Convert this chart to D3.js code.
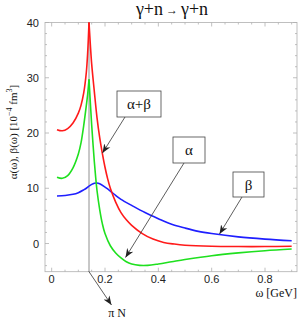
<!DOCTYPE html>
<html>
<head>
<script src="https://d3js.org/d3.v7.min.js"></script>
<style>
  body { margin: 0; background: #fff; }
  svg { display: block; }
  .tick-label { font-family: "Liberation Sans", Arial, sans-serif; font-size: 11px; fill: #222; }
  .serif { font-family: "Liberation Serif", "DejaVu Serif", serif; fill: #111; }
</style>
</head>
<body>
<div id="chart"></div>
<script>
// threshold (pi N) and tick values
var threshold = 0.14;
var xTicks = [0, 0.2, 0.4, 0.6, 0.8];
var yTicks = [0, 10, 20, 30, 40];

// alpha + beta (red), split at the pion threshold cusp
var sumLeft = [[0.02,20.6],[0.04,20.4],[0.06,20.8],[0.08,21.8],[0.10,23.6],[0.11,25.0],[0.12,27.2],[0.13,31.0],[0.135,34.5],[0.14,40]];
var sumRight = [[0.14,40],[0.145,36.0],[0.15,32.5],[0.16,27.5],[0.17,22.8],[0.18,19.2],[0.19,16.3],[0.20,13.8],[0.21,11.7],[0.22,10.0],[0.24,7.5],[0.26,5.6],[0.28,4.3],[0.30,3.3],[0.34,1.8],[0.38,0.8],[0.42,0.2],[0.46,-0.1],[0.5,-0.3],[0.6,-0.5],[0.7,-0.55],[0.8,-0.55],[0.9,-0.5]];

// alpha (green)
var alphaLeft = [[0.02,12.0],[0.04,11.8],[0.06,12.3],[0.08,13.7],[0.10,16.2],[0.11,18.2],[0.12,21.3],[0.13,25.0],[0.135,27.0],[0.14,29.7]];
var alphaRight = [[0.14,29.7],[0.145,25.5],[0.15,21.5],[0.155,18.0],[0.16,14.8],[0.165,12.0],[0.17,9.6],[0.18,6.2],[0.19,3.6],[0.20,1.8],[0.22,-0.4],[0.24,-1.7],[0.26,-2.6],[0.28,-3.3],[0.30,-3.7],[0.33,-3.95],[0.36,-3.95],[0.40,-3.7],[0.45,-3.3],[0.5,-2.9],[0.6,-2.2],[0.7,-1.7],[0.8,-1.3],[0.9,-1.0]];

// beta (blue)
var betaLeft = [[0.02,8.6],[0.05,8.7],[0.08,8.9],[0.10,9.2],[0.12,9.7],[0.13,10.0],[0.14,10.4]];
var betaRight = [[0.14,10.4],[0.15,10.7],[0.16,10.9],[0.17,10.95],[0.18,10.8],[0.20,10.2],[0.22,9.5],[0.24,8.7],[0.26,8.0],[0.30,6.9],[0.35,5.6],[0.40,4.5],[0.45,3.5],[0.5,2.8],[0.55,2.2],[0.6,1.8],[0.7,1.2],[0.8,0.8],[0.9,0.5]];

var width = 300, height = 319;
var svg = d3.select("#chart").append("svg")
  .attr("width", width).attr("height", height);

var x = d3.scaleLinear().domain([-0.025, 0.92]).range([45, 297]);
var y = d3.scaleLinear().domain([-5.1, 40]).range([271.7, 22.5]);

var defs = svg.append("defs");
defs.append("marker")
  .attr("id", "arrow")
  .attr("viewBox", "0 0 10 10")
  .attr("refX", 10).attr("refY", 5)
  .attr("markerWidth", 9).attr("markerHeight", 9)
  .attr("markerUnits", "userSpaceOnUse")
  .attr("orient", "auto")
  .append("path")
  .attr("d", "M0,1 L10,5 L0,9 L3,5 Z")
  .attr("fill", "#222");

// frame
var frameColor = "#b0b0b0";
svg.append("rect")
  .attr("x", x.range()[0]).attr("y", y.range()[1])
  .attr("width", x.range()[1] - x.range()[0])
  .attr("height", y.range()[0] - y.range()[1])
  .attr("fill", "none").attr("stroke", frameColor).attr("stroke-width", 0.8);

// inward ticks on all sides
var xMinor = d3.range(0, 0.92, 0.05);
var yMinor = d3.range(-4, 40.1, 2);
var tickG = svg.append("g").attr("stroke", frameColor).attr("stroke-width", 0.8);
xMinor.forEach(function(v) {
  var major = xTicks.some(function(t) { return Math.abs(t - v) < 1e-6; });
  var len = major ? 4 : 2;
  tickG.append("line").attr("x1", x(v)).attr("x2", x(v)).attr("y1", y.range()[0]).attr("y2", y.range()[0] - len);
  tickG.append("line").attr("x1", x(v)).attr("x2", x(v)).attr("y1", y.range()[1]).attr("y2", y.range()[1] + len);
});
yMinor.forEach(function(v) {
  var major = yTicks.indexOf(v) >= 0;
  var len = major ? 4 : 2;
  tickG.append("line").attr("y1", y(v)).attr("y2", y(v)).attr("x1", x.range()[0]).attr("x2", x.range()[0] + len);
  tickG.append("line").attr("y1", y(v)).attr("y2", y(v)).attr("x1", x.range()[1]).attr("x2", x.range()[1] - len);
});

// tick labels
svg.selectAll(".xl").data(xTicks).enter().append("text")
  .attr("class", "tick-label")
  .attr("x", function(d) { return x(d); })
  .attr("y", 283)
  .attr("text-anchor", "middle")
  .text(function(d) { return d === 0 ? "0" : d3.format(".1f")(d); });

svg.selectAll(".yl").data(yTicks).enter().append("text")
  .attr("class", "tick-label")
  .attr("x", 39)
  .attr("y", function(d) { return y(d) + 4; })
  .attr("text-anchor", "end")
  .text(function(d) { return d; });

// threshold line
svg.append("line")
  .attr("x1", x(threshold)).attr("x2", x(threshold))
  .attr("y1", y(40)).attr("y2", y.range()[0])
  .attr("stroke", "#222").attr("stroke-width", 1)
  .attr("stroke-dasharray", "1,1");

// curves
var line = d3.line()
  .x(function(d) { return x(d[0]); })
  .y(function(d) { return y(d[1]); })
  .curve(d3.curveCatmullRom.alpha(0.5));

var series = [
  {data: [betaLeft, betaRight], color: "#1f1fff"},
  {data: [sumLeft, sumRight], color: "#ff1a1a"},
  {data: [alphaLeft, alphaRight], color: "#1fe01f"}
];
series.forEach(function(s) {
  s.data.forEach(function(seg) {
    svg.append("path")
      .attr("d", line(seg))
      .attr("fill", "none")
      .attr("stroke", s.color)
      .attr("stroke-width", 1.6)
      .attr("stroke-linejoin", "round");
  });
});

// label boxes with arrows
var labels = [
  {text: "α+β", box: [117, 91, 44, 26], from: [125, 117], to: [102.5, 153]},
  {text: "α", box: [173, 137, 32, 26], from: [184, 163], to: [125.5, 257.5]},
  {text: "β", box: [233, 172, 31, 25], from: [242, 197], to: [219.5, 234]}
];
labels.forEach(function(l) {
  svg.append("line")
    .attr("x1", l.from[0]).attr("y1", l.from[1])
    .attr("x2", l.to[0]).attr("y2", l.to[1])
    .attr("stroke", "#333").attr("stroke-width", 0.8)
    .attr("marker-end", "url(#arrow)");
  svg.append("rect")
    .attr("x", l.box[0]).attr("y", l.box[1])
    .attr("width", l.box[2]).attr("height", l.box[3])
    .attr("fill", "#fff").attr("stroke", "#444").attr("stroke-width", 0.8);
  svg.append("text")
    .attr("class", "serif")
    .attr("x", l.box[0] + l.box[2] / 2)
    .attr("y", l.box[1] + l.box[3] / 2 + 5)
    .attr("text-anchor", "middle")
    .attr("font-size", 15)
    .text(l.text);
});

// pi N arrow
svg.append("line")
  .attr("x1", x(threshold)).attr("y1", y.range()[0])
  .attr("x2", 111.5).attr("y2", 305)
  .attr("stroke", "#333").attr("stroke-width", 0.8)
  .attr("marker-end", "url(#arrow)");
svg.append("text").attr("class", "serif")
  .attr("x", 117).attr("y", 317).attr("text-anchor", "middle")
  .attr("font-size", 12).text("π N");

// title
var title = svg.append("text").attr("class", "serif")
  .attr("x", 172).attr("y", 15).attr("text-anchor", "middle")
  .attr("font-size", 18);
title.append("tspan").text("γ+n");
title.append("tspan").attr("font-size", 12).attr("dy", -1).text(" → ");
title.append("tspan").attr("dy", 1).text("γ+n");

// axis labels
svg.append("text").attr("class", "serif")
  .attr("x", 297).attr("y", 297).attr("text-anchor", "end")
  .attr("font-size", 12).text("ω [GeV]");

var yl = svg.append("text").attr("class", "serif")
  .attr("transform", "translate(17,132) rotate(-90)")
  .attr("text-anchor", "middle")
  .attr("font-size", 11);
yl.append("tspan").text("α(ω), β(ω) [10");
yl.append("tspan").attr("dy", -5).attr("font-size", 8).text("−4");
yl.append("tspan").attr("dy", 5).text(" fm");
yl.append("tspan").attr("dy", -5).attr("font-size", 8).text("3");
yl.append("tspan").attr("dy", 5).text("]");
</script>
</body>
</html>
